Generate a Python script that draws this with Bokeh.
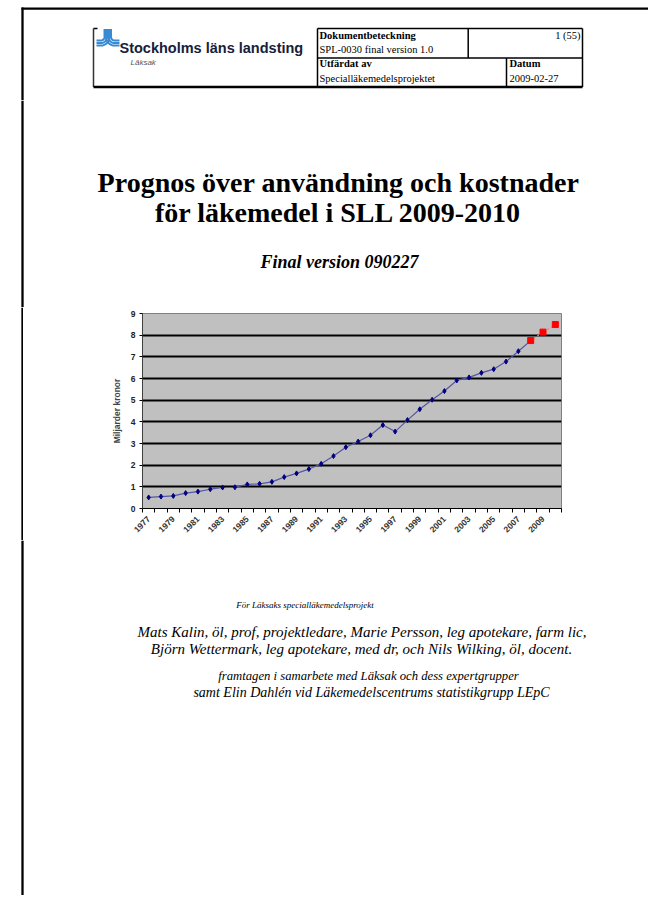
import numpy as np
from math import pi
from bokeh.plotting import figure
from bokeh.layouts import column, row
from bokeh.models import Range1d, Label, FixedTicker
from bokeh.embed import file_html
from bokeh.resources import INLINE

# ---------------- data ----------------
years = list(range(1977, 2008))
actual = [0.51, 0.55, 0.58, 0.71, 0.78, 0.89, 0.97, 0.98, 1.11, 1.14,
          1.23, 1.45, 1.62, 1.82, 2.06, 2.42, 2.83, 3.09, 3.38, 3.85,
          3.55, 4.08, 4.58, 5.02, 5.42, 5.91, 6.05, 6.26, 6.43, 6.78, 7.26]
forecast_years = [2008, 2009, 2010]
forecast = [7.75, 8.14, 8.49]
y_ticks = [0, 1, 2, 3, 4, 5, 6, 7, 8, 9]
x_label_years = list(range(1977, 2010, 2))
y_axis_title = "Miljarder kronor"

title_lines = ["Prognos över användning och kostnader", "för läkemedel i SLL 2009-2010"]
subtitle = "Final version 090227"
org_name = "Stockholms läns landsting"
org_unit = "Läksak"
credit_lines = [
    "För Läksaks specialläkemedelsprojekt",
    "Mats Kalin, öl, prof, projektledare, Marie Persson, leg apotekare, farm lic,",
    "Björn Wettermark, leg apotekare, med dr, och Nils Wilking, öl, docent.",
    "framtagen i samarbete med Läksak och dess expertgrupper",
    "samt Elin Dahlén vid Läkemedelscentrums statistikgrupp LEpC",
]

SERIF = "Liberation Serif"
SANS = "Liberation Sans"
PAGE_W = 648
ROW_TOP, ROW_BOT = 307, 540


def canvas(x0, x1, y0, y1):
    p = figure(width=x1 - x0, height=y1 - y0,
               x_range=Range1d(x0, x1), y_range=Range1d(y1, y0),
               x_axis_type=None, y_axis_type=None,
               output_backend="svg", toolbar_location=None, min_border=0)
    p.outline_line_color = None
    p.background_fill_color = "white"
    p.border_fill_color = "white"
    return p


def lab(p, x, y, text, font=SERIF, size="10px", style="normal", align="left",
        color="black"):
    p.add_layout(Label(x=x, y=y, text=text, text_font=font, text_font_size=size,
                       text_font_style=style, text_align=align, text_color=color,
                       text_baseline="middle"))


# ---------------- header ----------------
head = canvas(0, PAGE_W, 0, 100)
head.segment(x0=[21, 22], y0=[8.2, 7], x1=[PAGE_W, 22], y1=[8.2, 100],
             line_color="black", line_width=2.3)
head.segment(x0=[93, 317, 317, 317, 467.7, 506, 582],
             y0=[28, 28, 57.5, 28, 28, 57.5, 28],
             x1=[97, 582, 582, 317, 467.7, 506, 582],
             y1=[28, 28, 57.5, 86.5, 57.5, 86.5, 86.5],
             line_color="black", line_width=1.5)
head.segment(x0=[93], y0=[28], x1=[93], y1=[86.5], line_color="#333333", line_width=1.5)
head.segment(x0=[93], y0=[86.5], x1=[582], y1=[86.5], line_color="black", line_width=2.5)

# logo (three parallel strokes forming J and L)
xs, ys = [], []
cy = 36.5
for r in (3.5, 6.0, 8.5):
    t = np.linspace(0, pi / 2, 12)
    cx = 100.5
    xs.append(list(np.r_[cx + r, cx + r * np.cos(t), 96.0]))
    ys.append(list(np.r_[28.5, cy + r * np.sin(t), cy + r]))
    cx2 = 114.0
    xs.append(list(np.r_[cx2 - r, cx2 - r * np.cos(t), 119]))
    ys.append(list(np.r_[28.5, cy + r * np.sin(t), cy + r]))
head.multi_line(xs, ys, line_color="#3a8ad2", line_width=2)

lab(head, 119, 47, org_name, font=SANS, size="14.5px", style="bold", color="#16203a")
lab(head, 130, 62, org_unit, font=SANS, size="8px", style="italic", color="#555555")
lab(head, 319, 35, "Dokumentbeteckning", size="10.5px", style="bold")
lab(head, 319, 49, "SPL-0030 final version 1.0", size="10.5px")
lab(head, 580, 35, "1 (55)", size="10.5px", align="right")
lab(head, 319, 63, "Utfärdat av", size="10.5px", style="bold")
lab(head, 319, 78, "Specialläkemedelsprojektet", size="10.5px")
lab(head, 509, 63, "Datum", size="10.5px", style="bold")
lab(head, 509, 78, "2009-02-27", size="10.5px")

# ---------------- titles ----------------
titles = canvas(0, PAGE_W, 100, ROW_TOP)
titles.segment(x0=[22], y0=[100], x1=[22], y1=[ROW_TOP], line_color="black", line_width=2.3)
lab(titles, 338, 182, title_lines[0], size="28px", style="bold", align="center")
lab(titles, 338, 212, title_lines[1], size="28px", style="bold", align="center")
lab(titles, 339, 261, subtitle, size="18px", style="bold italic", align="center")

# ---------------- chart row ----------------
strip = canvas(0, 23, ROW_TOP, ROW_BOT)
strip.segment(x0=[22], y0=[ROW_TOP], x1=[22], y1=[ROW_BOT], line_color="black", line_width=2.3)

p = figure(width=PAGE_W - 23, height=ROW_BOT - ROW_TOP,
           x_range=Range1d(years[0] - 0.5, forecast_years[-1] + 0.5),
           y_range=Range1d(y_ticks[0], y_ticks[-1]),
           output_backend="svg", toolbar_location=None,
           min_border_left=119, min_border_right=PAGE_W - 561,
           min_border_top=313 - ROW_TOP, min_border_bottom=ROW_BOT - 508)
p.background_fill_color = "#c0c0c0"
p.border_fill_color = "white"
p.outline_line_color = "#808080"
p.outline_line_width = 1

p.xgrid.visible = False
p.ygrid.ticker = FixedTicker(ticks=y_ticks[1:-1])
p.ygrid.grid_line_color = "black"
p.ygrid.grid_line_width = 2

all_years = years + forecast_years
bounds = [y - 0.5 for y in all_years] + [all_years[-1] + 0.5]
p.xaxis.ticker = FixedTicker(ticks=x_label_years, minor_ticks=bounds)
p.xaxis.major_tick_line_color = None
p.xaxis.minor_tick_line_color = "black"
p.xaxis.minor_tick_out = 4
p.xaxis.minor_tick_in = 0
p.xaxis.axis_line_color = "black"
p.xaxis.major_label_orientation = pi / 4
p.xaxis.major_label_text_font = SANS
p.xaxis.major_label_text_font_size = "8.5px"
p.xaxis.major_label_text_font_style = "bold"
p.xaxis.major_label_text_color = "#333333"
p.xaxis.major_label_standoff = 3

p.yaxis.ticker = FixedTicker(ticks=y_ticks)
p.yaxis.minor_tick_line_color = None
p.yaxis.major_tick_out = 3
p.yaxis.major_tick_in = 0
p.yaxis.major_tick_line_color = "black"
p.yaxis.axis_line_color = "#404040"
p.yaxis.major_label_text_font = SANS
p.yaxis.major_label_text_font_size = "8.5px"
p.yaxis.major_label_text_font_style = "bold"
p.yaxis.major_label_text_color = "#222222"
p.yaxis.major_label_standoff = 4
p.yaxis.axis_label = y_axis_title
p.yaxis.axis_label_text_font = SANS
p.yaxis.axis_label_text_font_size = "8.5px"
p.yaxis.axis_label_text_font_style = "bold"
p.yaxis.axis_label_standoff = 6

p.line(years + forecast_years[:1], actual + forecast[:1], line_color="#5656a6", line_width=1.2)
p.line(forecast_years, forecast, line_color="#ff7a7a", line_width=1.2, line_dash="2 2")
p.scatter(years, actual, marker="diamond", size=5, color="#000080")
p.scatter(forecast_years, forecast, marker="square", size=6, color="#ff0000")

# ---------------- bottom part of page ----------------
bot = canvas(0, PAGE_W, ROW_BOT, 895)
bot.segment(x0=[22], y0=[ROW_BOT], x1=[22], y1=[895], line_color="black", line_width=2.3)
lab(bot, 304.5, 604, credit_lines[0], size="9px", style="italic", align="center")
lab(bot, 361.5, 631, credit_lines[1], size="15px", style="italic", align="center")
lab(bot, 361, 648, credit_lines[2], size="15px", style="italic", align="center")
lab(bot, 368, 675, credit_lines[3], size="12.7px", style="italic", align="center")
lab(bot, 371, 692, credit_lines[4], size="14px", style="italic", align="center")

layout = column(head, titles, row(column(strip), p), bot)
open("out.html", "w").write(file_html(layout, INLINE))
